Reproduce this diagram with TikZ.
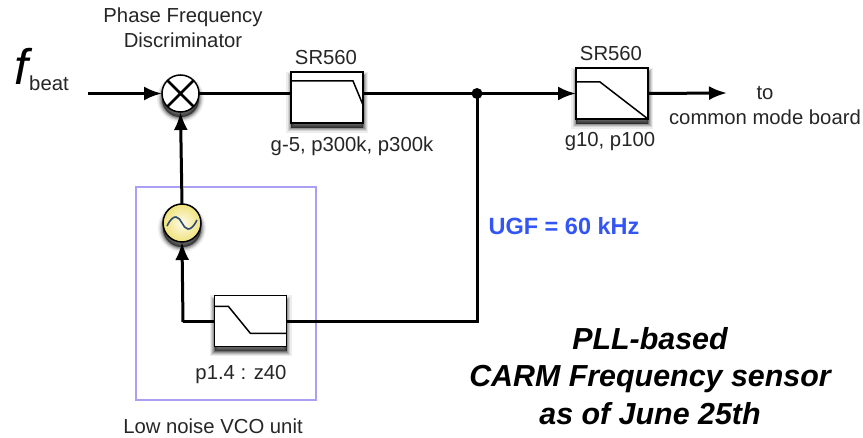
\documentclass[tikz,border=0pt]{standalone}
\usepackage{fontspec}
\setmainfont{Liberation Sans}
\usetikzlibrary{arrows.meta,calc}
\definecolor{ugfblue}{HTML}{3355F5}
\definecolor{vcoframe}{HTML}{A9A0F5}
\definecolor{vcoyellow}{HTML}{F0E27A}
\definecolor{sinecol}{HTML}{2F4A70}
\tikzset{
  softshadow/.style={
    preaction={draw=black,fill=black,opacity=.07,line width=10pt,transform canvas={yshift=-5pt}},
    preaction={draw=black,fill=black,opacity=.10,line width=7pt,transform canvas={yshift=-5pt}},
    preaction={draw=black,fill=black,opacity=.14,line width=5pt,transform canvas={yshift=-5pt}},
    preaction={draw=black,fill=black,opacity=.18,line width=3pt,transform canvas={yshift=-5pt}},
    preaction={draw=black,fill=black,opacity=.25,line width=1pt,transform canvas={yshift=-5pt}}},
  filterbox/.style={draw=black,line width=1.5pt,fill=white,minimum width=72pt,minimum height=51pt,inner sep=0pt,outer sep=0pt,softshadow},
  mixer/.style={circle,draw=black,line width=1.5pt,fill=white,minimum size=37pt,inner sep=0pt,outer sep=0pt,softshadow},
  vco/.style={circle,draw=black,line width=1.5pt,shading=radial,inner color=vcoyellow!15,outer color=vcoyellow,minimum size=38pt,inner sep=0pt,outer sep=0pt,softshadow},
  wire/.style={line width=3pt,draw=black},
  sig/.style={wire,-{Latex[length=18pt,width=14pt]}},
  curve/.style={line width=1.5pt,draw=black,line join=miter},
  lab/.style={font=\fontsize{20.3}{25}\selectfont,align=center,text=black!85,inner sep=0pt},
  big/.style={font=\bfseries\itshape\fontsize{30.4}{37.5}\selectfont,align=center,inner sep=0pt},
}
\begin{document}
\begin{tikzpicture}[x=1pt,y=-1pt]
\useasboundingbox (0,0) rectangle (863,438);
\fill[white] (0,0) rectangle (863,438);
\node[draw=vcoframe,line width=1.4pt,minimum width=180pt,minimum height=213pt,inner sep=0pt] (unit) at (226,293.5) {};

\coordinate (start) at (88,93.5);
\coordinate (out) at (727,93);
\coordinate (corner) at (183,322);
\coordinate (turn) at (477,322);
\node[mixer] (mix) at (180.5,93.5) {};
\node[filterbox] (f1) at (327,97.5) {};
\node[filterbox] (f2) at (612,93.5) {};
\node[filterbox] (f3) at (250.5,321) {};
\node[vco] (osc) at (182,223) {};
\node[circle,fill=black,minimum size=11pt,inner sep=0pt] (dot) at (477,93.5) {};

\draw[sig] (start) -- (mix.west);
\draw[wire] (mix.east) -- (mix.east -| f1.west);
\draw[wire] (mix.east -| f1.east) -- (dot.center);
\draw[sig] (dot.center) -- (dot.center -| f2.west);
\draw[sig] (f2.east) -- (out);
\draw[wire] (dot.center) -- (turn) -- (f3.east |- turn);
\draw[wire] (f3.west |- corner) -- (corner);
\draw[sig] (corner) -- (osc.south);
\draw[sig] (osc.north) -- (mix.south);

\draw[line width=2.6pt] (mix.45) -- (mix.225) (mix.135) -- (mix.315);
\draw[line width=1.6pt,sinecol] ($(osc.center)+(-15,3)$) .. controls ($(osc.center)+(-8,-11)$) and ($(osc.center)+(-3,-6)$) .. (osc.center) .. controls ($(osc.center)+(3,6)$) and ($(osc.center)+(8,11)$) .. ($(osc.center)+(15,-3)$);

\draw[curve] ($(f1.north west)+(0,9)$) -- ($(f1.north west)+(62,9)$) -- ($(f1.north west)+(72,33)$);
\draw[curve] ($(f2.north west)+(0,14)$) -- ($(f2.north west)+(24,14)$) -- (f2.south east);
\draw[curve] ($(f3.north west)+(0,11)$) -- ($(f3.north west)+(14,11)$) -- ($(f3.north west)+(36,38)$) -- ($(f3.north west)+(72,38)$);

\node[inner sep=0pt] (fsym) at (21,66) {\fontsize{50}{50}\selectfont\itshape f};
\node[lab] (beat) at (49,83) {beat};
\node[lab] (pfd) at (183,28) {Phase Frequency\\Discriminator};
\node[lab] (t1) at (326,58) {SR560};
\node[lab] (t2) at (611,54) {SR560};
\node[lab] (l1) at (352,146) {g-5, p300k, p300k};
\node[lab] (l2) at (610,142) {g10, p100};
\node[lab] (l3) at (765,106) {to\\common mode board};
\node[lab] (l4) at (241,375) {p1.4 : z40};
\node[lab] (l5) at (213,426) {Low noise VCO unit};
\node[font=\bfseries\fontsize{23.5}{26}\selectfont,text=ugfblue,inner sep=0pt] (ugf) at (564,226) {UGF = 60 kHz};
\node[big] (title) at (650,376) {PLL-based\\CARM Frequency sensor\\as of June 25th};
\end{tikzpicture}
\end{document}
